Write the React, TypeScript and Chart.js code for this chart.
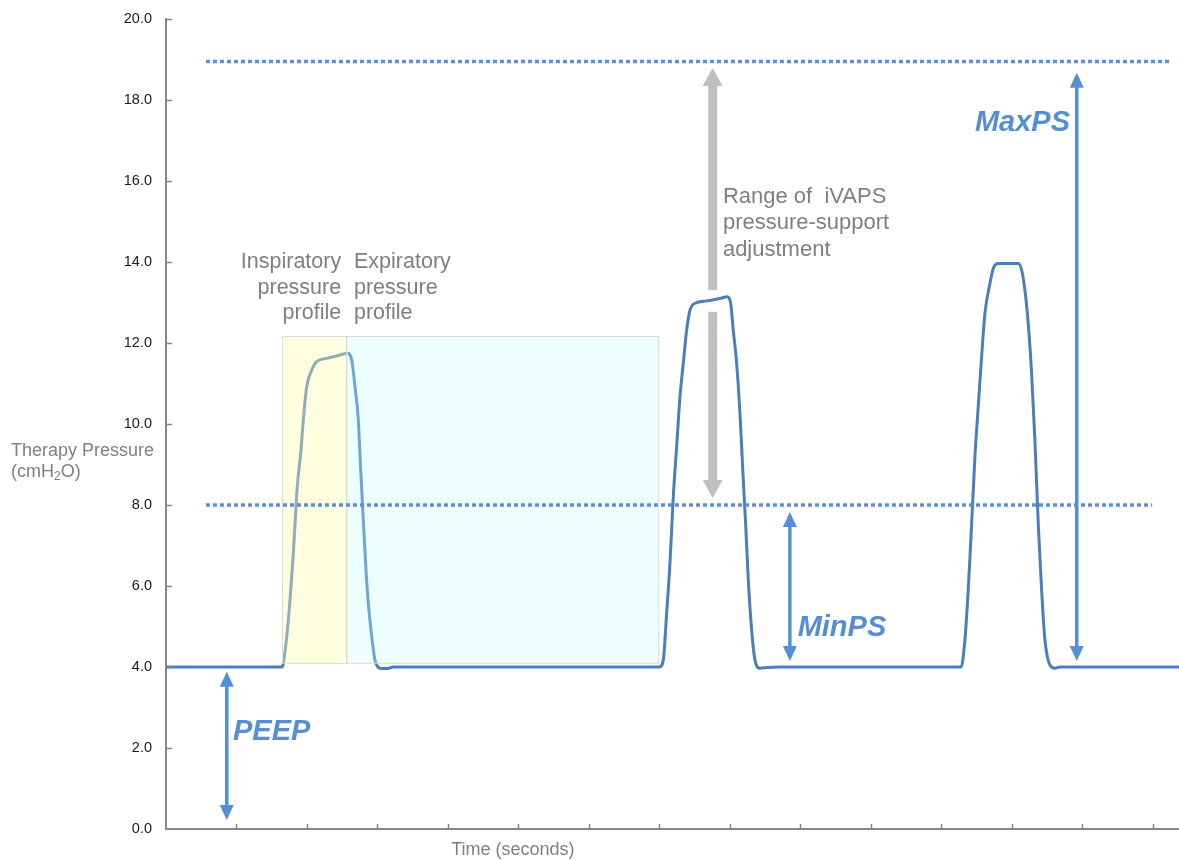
import React, { useEffect, useRef } from "react";
import { Chart, registerables } from "chart.js";

Chart.register(...registerables);

// ---------- data (time in seconds, pressure in cmH2O) ----------
const timeSec = [
  0, 1.645, 1.665, 1.735, 1.806, 1.862, 1.911, 1.948, 1.996, 2.067, 2.138, 2.279, 2.421, 2.572,
  2.634, 2.681, 2.728, 2.762, 2.799, 2.837, 2.87, 2.918, 2.965, 3.035, 3.13, 3.224,
  7.0, 7.054, 7.102, 7.149, 7.196, 7.244, 7.291, 7.338, 7.386, 7.433, 7.504, 7.67, 7.858, 7.962,
  8.01, 8.047, 8.095, 8.142, 8.189, 8.227, 8.26, 8.308, 8.355, 8.426, 8.521, 8.709,
  11.28, 11.333, 11.38, 11.429, 11.475, 11.522, 11.57, 11.617, 11.688, 11.735, 11.806, 12.089,
  12.138, 12.184, 12.231, 12.279, 12.326, 12.373, 12.421, 12.468, 12.539, 12.61, 12.681, 14.37,
];
const pressure = [
  4.0, 4.0, 4.1, 5.16, 6.81, 8.45, 9.28, 10.1, 10.92, 11.33, 11.54, 11.62, 11.68, 11.75,
  11.58, 10.92, 10.1, 8.86, 7.63, 6.4, 5.57, 4.75, 4.17, 3.97, 3.96, 4.0,
  4.0, 4.17, 5.33, 6.56, 8.2, 9.44, 10.67, 11.5, 12.32, 12.81, 12.98, 13.04, 13.1, 13.14,
  12.98, 12.32, 11.5, 10.26, 8.62, 7.38, 6.15, 4.91, 4.17, 3.97, 3.99, 4.0,
  4.0, 4.67, 5.9, 7.55, 9.19, 10.43, 11.66, 12.73, 13.47, 13.84, 13.96, 13.96,
  13.8, 13.31, 12.49, 11.25, 9.6, 7.55, 5.9, 4.67, 4.05, 3.97, 4.0, 4.0,
];

const yMin = 0;
const yMax = 20;
const yStep = 2;
const xMin = 0;
const xMax = 14.37;
const xStep = 1;

const maxPsLevel = 18.95;
const minPsLevel = 8.0;
const maxPsLineT = [0.567, 14.27];
const minPsLineT = [0.567, 13.99];

// profile shading boxes: [tStart, tEnd, pBottom, pTop]
const inspiratoryBox = [1.645, 2.56, 4.1, 12.17];
const expiratoryBox = [2.56, 6.99, 4.1, 12.17];

// double arrows: [t, pTop, pBottom]
const peepArrow = [0.862, 3.88, 0.22];
const minPsArrow = [8.85, 7.83, 4.15];
const maxPsArrow = [12.92, 18.67, 4.15];
// range arrow: [t, upperTip, upperEnd, lowerStart, lowerTip]
const rangeArrow = [7.755, 18.79, 13.31, 12.77, 8.17];

// labels
const peepLabel = { text: "PEEP", t: 0.95, p: 2.2 };
const minPsLabel = { text: "MinPS", t: 8.96, p: 4.77 };
const maxPsLabel = { text: "MaxPS", t: 11.475, p: 17.23 };
const rangeLines = ["Range of  iVAPS", "pressure-support", "adjustment"];
const rangeLabelAnchor = { t: 7.9, p: 15.46 };
const inspLines = ["Inspiratory", "pressure", "profile"];
const inspLabelAnchor = { t: 2.485, p: 13.85 };
const expLines = ["Expiratory", "pressure", "profile"];
const expLabelAnchor = { t: 2.667, p: 13.85 };
const xTitle = "Time (seconds)";
const yTitleLine1 = "Therapy Pressure";

// ---------- styles ----------
const FONT = "'Liberation Sans', Arial, sans-serif";
const WAVE = "#4a7ebf";
const BLUE = "#558ed5";
const DOT = "#5b8fd8";
const GRAY_TEXT = "#7f7f7f";
const AXIS = "#868686";

function drawArrowHead(ctx: CanvasRenderingContext2D, x: number, tipY: number, dir: number, len: number, w: number) {
  ctx.beginPath();
  ctx.moveTo(x, tipY);
  ctx.lineTo(x - w / 2, tipY + dir * len);
  ctx.lineTo(x + w / 2, tipY + dir * len);
  ctx.closePath();
  ctx.fill();
}

const overlayPlugin = {
  id: "overlay",
  afterDatasetDraw(chart: any, args: any) {
    if (args.index !== 0) return;
    const { ctx, scales } = chart;
    const x = scales.x;
    const y = scales.y;
    const box = (b: number[], fill: string) => {
      const x0 = x.getPixelForValue(b[0]);
      const x1 = x.getPixelForValue(b[1]);
      const y0 = y.getPixelForValue(b[3]);
      const y1 = y.getPixelForValue(b[2]);
      ctx.save();
      ctx.fillStyle = fill;
      ctx.fillRect(x0, y0, x1 - x0, y1 - y0);
      ctx.strokeStyle = "#d9d9d9";
      ctx.lineWidth = 1;
      ctx.strokeRect(Math.round(x0) + 0.5, Math.round(y0) + 0.5, x1 - x0, y1 - y0);
      ctx.restore();
    };
    box(inspiratoryBox, "rgba(255,255,170,0.38)");
    box(expiratoryBox, "rgba(200,255,255,0.3)");
  },
  afterDraw(chart: any) {
    const { ctx, scales } = chart;
    const x = scales.x;
    const y = scales.y;
    const area = chart.chartArea;
    ctx.save();

    // inner tick marks
    ctx.strokeStyle = AXIS;
    ctx.lineWidth = 1.5;
    for (let v = yMin + yStep; v <= yMax + 1e-9; v += yStep) {
      const py = Math.round(y.getPixelForValue(v)) + 0.5;
      ctx.beginPath();
      ctx.moveTo(area.left, py);
      ctx.lineTo(area.left + 6, py);
      ctx.stroke();
    }
    for (let v = xMin + xStep; v <= xMax + 1e-9; v += xStep) {
      const px = Math.round(x.getPixelForValue(v)) + 0.5;
      ctx.beginPath();
      ctx.moveTo(px, area.bottom);
      ctx.lineTo(px, area.bottom - 5);
      ctx.stroke();
    }

    // grey range arrow
    {
      const px = x.getPixelForValue(rangeArrow[0]);
      const uTip = y.getPixelForValue(rangeArrow[1]);
      const uEnd = y.getPixelForValue(rangeArrow[2]);
      const lStart = y.getPixelForValue(rangeArrow[3]);
      const lTip = y.getPixelForValue(rangeArrow[4]);
      const headLen = 18;
      const headW = 20;
      const shaftW = 9;
      ctx.fillStyle = "#bfbfbf";
      drawArrowHead(ctx, px, uTip, 1, headLen, headW);
      ctx.fillRect(px - shaftW / 2, uTip + headLen - 0.5, shaftW, uEnd - uTip - headLen + 0.5);
      drawArrowHead(ctx, px, lTip, -1, headLen, headW);
      ctx.fillRect(px - shaftW / 2, lStart, shaftW, lTip - headLen - lStart + 0.5);
    }

    // blue double arrows
    const dbl = (a: number[]) => {
      const px = x.getPixelForValue(a[0]);
      const top = y.getPixelForValue(a[1]);
      const bot = y.getPixelForValue(a[2]);
      const headLen = 15;
      const headW = 14;
      ctx.fillStyle = BLUE;
      ctx.strokeStyle = BLUE;
      ctx.lineWidth = 3.5;
      ctx.beginPath();
      ctx.moveTo(px, top + headLen - 1);
      ctx.lineTo(px, bot - headLen + 1);
      ctx.stroke();
      drawArrowHead(ctx, px, top, 1, headLen, headW);
      drawArrowHead(ctx, px, bot, -1, headLen, headW);
    };
    dbl(peepArrow);
    dbl(minPsArrow);
    dbl(maxPsArrow);

    // bold italic labels
    ctx.fillStyle = BLUE;
    ctx.font = `italic bold 29px ${FONT}`;
    ctx.textAlign = "left";
    ctx.textBaseline = "alphabetic";
    for (const l of [peepLabel, minPsLabel, maxPsLabel]) {
      ctx.fillText(l.text, x.getPixelForValue(l.t), y.getPixelForValue(l.p));
    }

    // grey annotation text
    ctx.fillStyle = GRAY_TEXT;
    const block = (lines: string[], anchor: { t: number; p: number }, align: CanvasTextAlign, lh: number) => {
      ctx.textAlign = align;
      const px = x.getPixelForValue(anchor.t);
      const py = y.getPixelForValue(anchor.p);
      lines.forEach((s, i) => ctx.fillText(s, px, py + i * lh));
    };
    ctx.font = `22px ${FONT}`;
    block(rangeLines, rangeLabelAnchor, "left", 26.5);
    ctx.font = `21.5px ${FONT}`;
    block(inspLines, inspLabelAnchor, "right", 25.5);
    block(expLines, expLabelAnchor, "left", 25.5);

    // axis titles
    ctx.font = `18px ${FONT}`;
    ctx.textAlign = "center";
    ctx.fillText(xTitle, x.getPixelForValue(4.92), area.bottom + 26);

    ctx.textAlign = "left";
    const ty = y.getPixelForValue(9.2);
    ctx.fillText(yTitleLine1, 11, ty);
    let cx = 11;
    const l2y = ty + 21;
    ctx.fillText("(cmH", cx, l2y);
    cx += ctx.measureText("(cmH").width;
    ctx.font = `12px ${FONT}`;
    ctx.fillText("2", cx, l2y + 3);
    cx += ctx.measureText("2").width;
    ctx.font = `18px ${FONT}`;
    ctx.fillText("O)", cx, l2y);

    ctx.restore();
  },
};

export default function App() {
  const ref = useRef<HTMLCanvasElement>(null);
  useEffect(() => {
    if (!ref.current) return;
    const chart = new Chart(ref.current, {
      type: "line",
      data: {
        datasets: [
          {
            data: timeSec.map((t, i) => ({ x: t, y: pressure[i] })),
            borderColor: WAVE,
            borderWidth: 3,
            pointRadius: 0,
            cubicInterpolationMode: "monotone",
            fill: false,
            order: 2,
          },
          {
            data: maxPsLineT.map((t) => ({ x: t, y: maxPsLevel })),
            borderColor: DOT,
            borderWidth: 3.5,
            borderDash: [4, 3],
            pointRadius: 0,
            fill: false,
            order: 1,
          },
          {
            data: minPsLineT.map((t) => ({ x: t, y: minPsLevel })),
            borderColor: DOT,
            borderWidth: 3.5,
            borderDash: [4, 3],
            pointRadius: 0,
            fill: false,
            order: 1,
          },
        ],
      } as any,
      options: {
        animation: false,
        responsive: false,
        devicePixelRatio: 1,
        layout: { padding: { top: 19, left: 0, right: 0, bottom: 0 } },
        plugins: { legend: { display: false }, tooltip: { enabled: false } },
        events: [],
        scales: {
          x: {
            type: "linear",
            min: xMin,
            max: xMax,
            ticks: { display: false, stepSize: xStep },
            grid: { display: false, drawTicks: false },
            border: { display: true, color: AXIS, width: 2 },
            afterFit: (s: any) => {
              s.height = 31;
              s.paddingLeft = 0;
              s.paddingRight = 0;
            },
          },
          y: {
            type: "linear",
            min: yMin,
            max: yMax,
            ticks: {
              stepSize: yStep,
              padding: 14,
              color: "#1a1a1a",
              font: { family: FONT, size: 14.5 },
              callback: (v: any) => Number(v).toFixed(1),
            },
            grid: { display: false, drawTicks: false },
            border: { display: true, color: AXIS, width: 2 },
            afterFit: (s: any) => {
              s.width = 166;
              s.paddingTop = 0;
              s.paddingBottom = 0;
            },
          },
        },
      } as any,
      plugins: [overlayPlugin],
    });
    return () => chart.destroy();
  }, []);
  return (
    <div style={{ position: "absolute", left: 0, top: 0, width: 1179, height: 860, background: "#fff" }}>
      <canvas ref={ref} width={1179} height={860} style={{ display: "block", width: 1179, height: 860 }} />
    </div>
  );
}
